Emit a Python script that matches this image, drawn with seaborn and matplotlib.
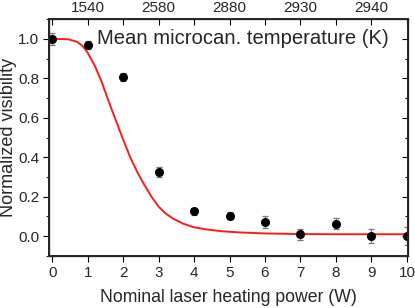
import matplotlib
matplotlib.use("Agg")
import matplotlib.pyplot as plt
import seaborn as sns
import pandas as pd
from matplotlib.ticker import MultipleLocator

# measured visibility vs nominal laser heating power
power = [0, 1, 2, 3, 4, 5, 6, 7, 8, 9, 10]
visibility = [1.0, 0.97, 0.805, 0.325, 0.126, 0.104, 0.07, 0.01, 0.064, 0.0, 0.0]
vis_err = [0.032, 0.02, 0.02, 0.025, 0.018, 0.018, 0.03, 0.027, 0.028, 0.034, 0.046]

# fit curve
fit_power = [0, 0.45, 0.7, 0.85, 1.0, 1.2, 1.4, 1.6, 1.8, 2.0, 2.2, 2.4, 2.6, 2.8,
             3.0, 3.2, 3.4, 3.7, 4.0, 4.4, 4.8, 5.3, 6.0, 7.0, 8.0, 10.0]
fit_vis = [1.0, 0.998, 0.985, 0.965, 0.93, 0.865, 0.78, 0.68, 0.585, 0.49, 0.40,
           0.325, 0.26, 0.20, 0.15, 0.115, 0.09, 0.063, 0.045, 0.033, 0.025,
           0.019, 0.014, 0.011, 0.01, 0.01]

# top axis: mean microcanonical temperature
temp_ticks = [0, 1, 2, 3, 4, 5, 6, 7, 8, 9, 10]
temp_labels = ["", "1540", "", "2580", "", "2880", "", "2930", "", "2940", ""]

sns.set_theme(style="ticks")
plt.rcParams["font.family"] = ["Liberation Sans", "DejaVu Sans"]

fig = plt.figure(figsize=(4.15, 3.08), dpi=100)
ax = fig.add_axes([0.118, 0.169, 0.865, 0.769])

fit_df = pd.DataFrame({"power": fit_power, "vis": fit_vis})
sns.lineplot(data=fit_df, x="power", y="vis", color="#ff1a1a", linewidth=1.4, ax=ax)

ax.errorbar(power, visibility, yerr=vis_err, fmt="o", color="black", ms=5.5,
            ecolor="#777777", elinewidth=0.9, capsize=2.2, capthick=0.9, zorder=3)

ax.set_xlim(-0.09, 10.03)
ax.set_ylim(-0.1, 1.1)
ax.set_xticks(range(11))
ax.yaxis.set_minor_locator(MultipleLocator(0.1))
ax.set_yticks([0.0, 0.2, 0.4, 0.6, 0.8, 1.0])
ax.set_yticklabels(["0.0", "0.2", "0.4", "0.6", "0.8", "1.0"])
ax.tick_params(axis="both", which="major", labelsize=11, length=4, width=0.8,
               color="black", pad=3)
ax.tick_params(axis="y", which="minor", length=2.5, width=0.8, direction="out")
ax.set_xlabel("Nominal laser heating power (W)", fontsize=12.7, labelpad=7)
ax.set_ylabel("Normalized visibility", fontsize=13)
ax.yaxis.set_label_coords(-0.088, 0.5)

for sp in ax.spines.values():
    sp.set_linewidth(0.9)
    sp.set_color("black")

# right-side inward ticks via twin y
axr = ax.twinx()
axr.set_ylim(ax.get_ylim())
axr.yaxis.set_major_locator(MultipleLocator(0.2))
axr.yaxis.set_minor_locator(MultipleLocator(0.1))
axr.tick_params(axis="y", which="major", direction="in", length=4, width=0.8,
                labelright=False, color="black")
axr.tick_params(axis="y", which="minor", direction="in", length=2.5, width=0.8,
                color="black")
axr.set_ylabel("")

axt = ax.twiny()
axt.set_xlim(ax.get_xlim())
axt.set_xticks(temp_ticks)
axt.set_xticklabels(temp_labels)
axt.tick_params(axis="x", direction="in", length=4, width=0.8, labelsize=11,
                pad=3, color="black")
axt.set_xlabel("")

ax.text(5.39, 1.0, "Mean microcan. temperature (K)", ha="center", va="center",
        fontsize=14.6)

fig.savefig("out.png", dpi=100)
